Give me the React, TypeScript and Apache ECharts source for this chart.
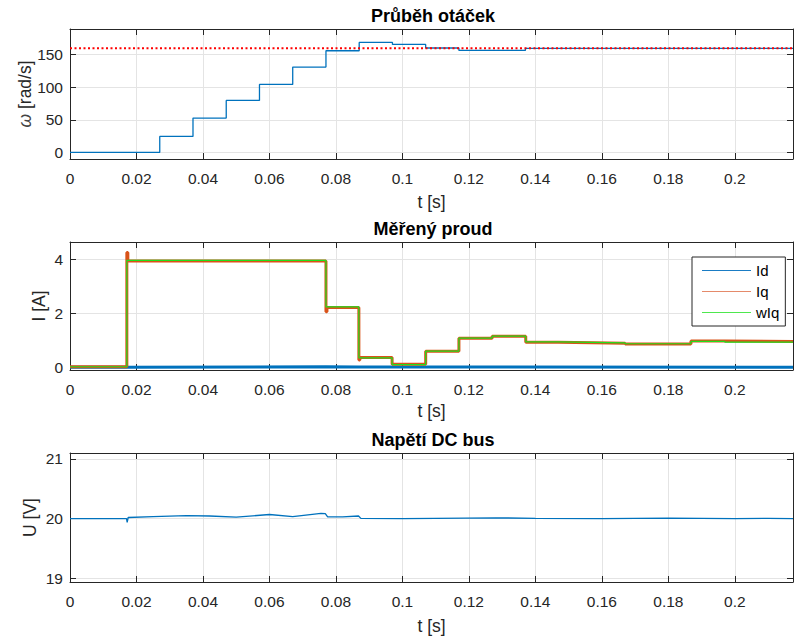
import React, { useEffect, useRef } from 'react';
import * as echarts from 'echarts';

// ---------- data ----------
const T_MAX = 0.2175;

// Průběh otáček (speed, rad/s) – step changes
const speedTimes = [0, 0.027, 0.037, 0.047, 0.057, 0.067, 0.077, 0.087, 0.097, 0.107, 0.117, 0.127, 0.137, 0.2175];
const speedValues = [0, 24.6, 52.8, 79.8, 104.4, 131.1, 156.1, 168.9, 165.8, 160.3, 156.6, 156.6, 159.7, 159.7];
const speedRefTimes = [0, 0.2175];
const speedRefValues = [160, 160];

// Měřený proud (A)
const idTimes = [0, 0.0171, 0.077, 0.0869, 0.2175];
const idValues = [0.01, 0.03, 0.02, 0.015, 0.015];

const iqTimes = [0, 0.0171, 0.0174, 0.077, 0.0773, 0.0869, 0.0872, 0.0969, 0.107, 0.117, 0.127, 0.1371, 0.1468, 0.157, 0.167, 0.1868, 0.197, 0.2175];
const iqValues = [0.03, 4.25, 3.94, 2.06, 2.22, 0.28, 0.37, 0.12, 0.6, 1.08, 1.16, 0.94, 0.92, 0.9, 0.87, 0.98, 0.96, 0.96];

const wiqTimes = [0, 0.0171, 0.077, 0.0869, 0.0969, 0.107, 0.117, 0.127, 0.1371, 0.1468, 0.157, 0.167, 0.1868, 0.197, 0.2175];
const wiqValues = [0.03, 3.96, 2.24, 0.36, 0.11, 0.61, 1.09, 1.16, 0.95, 0.93, 0.91, 0.88, 0.97, 0.94, 0.94];

// Napětí DC bus (V)
const uTimes = [0, 0.017, 0.0172, 0.0175, 0.025, 0.035, 0.042, 0.05, 0.06, 0.067, 0.0755, 0.0768, 0.0775, 0.082, 0.0868, 0.0875, 0.1, 0.11, 0.128, 0.14, 0.16, 0.18, 0.2, 0.21, 0.2175];
const uValues = [20.0, 20.0, 19.94, 20.02, 20.035, 20.05, 20.045, 20.025, 20.07, 20.035, 20.09, 20.085, 20.03, 20.03, 20.045, 20.005, 20.0, 20.005, 20.015, 20.005, 20.0, 20.01, 20.0, 20.005, 20.0];

const xTicks = { min: 0, max: T_MAX, step: 0.02 };
const titles = ['Průběh otáček', 'Měřený proud', 'Napětí DC bus'];
const yNames = ['{i|ω} [rad/s]', 'I [A]', 'U [V]'];
const yRanges = [
  { min: -10.1, max: 189.5, step: 50 },
  { min: -0.09, max: 4.64, step: 2 },
  { min: 18.94, max: 21.1, step: 1 },
];
const legendNames = ['Id', 'Iq', 'wIq'];

// ---------- style ----------
const FONT = '"Liberation Sans", Arial, Helvetica, sans-serif';
const AX = '#262626';
const GRIDC = '#e4e4e4';
const BLUE = '#0072BD';
const ORANGE = '#D95319';
const GREEN = '#1EE01E';
const LEGEND_COLORS = ['#1a7cc4', '#e58a6a', '#4ee84e'];

const gridBoxes = [
  { left: 70, top: 29, width: 723, height: 130 },
  { left: 70, top: 242, width: 723, height: 128 },
  { left: 70, top: 453, width: 723, height: 129 },
];
const yNameGaps = [36, 22, 31];
const xNameGaps = [34, 32, 35];

function pairs(xs: number[], ys: number[]) {
  return xs.map((x, i) => [x, ys[i]]);
}

function isMultiple(v: number, step: number) {
  const r = v / step;
  return Math.abs(r - Math.round(r)) < 1e-6;
}

function buildOption() {
  const xAxes: any[] = [];
  const yAxes: any[] = [];
  gridBoxes.forEach((_, g) => {
    const baseX = {
      type: 'value',
      gridIndex: g,
      min: xTicks.min,
      max: xTicks.max,
      interval: xTicks.step,
      axisLine: { show: true, onZero: false, lineStyle: { color: AX, width: 1 } },
      axisTick: { show: true, inside: true, length: 6, lineStyle: { color: AX } },
    };
    xAxes.push({
      ...baseX,
      position: 'bottom',
      name: 't [s]',
      nameLocation: 'middle',
      nameGap: xNameGaps[g],
      nameMoveOverlap: false,
      nameTextStyle: { fontFamily: FONT, fontSize: 17.5, color: AX },
      axisLabel: {
        show: true,
        margin: 11,
        fontFamily: FONT,
        fontSize: 15.5,
        color: AX,
        hideOverlap: false,
        formatter: (v: number) => (isMultiple(v, xTicks.step) ? String(+v.toFixed(2)) : ''),
      },
      splitLine: { show: true, lineStyle: { color: GRIDC, width: 1 } },
    });
    xAxes.push({
      ...baseX,
      position: 'top',
      axisLabel: { show: false },
      splitLine: { show: false },
    });
    const yr = yRanges[g];
    const baseY = {
      type: 'value',
      gridIndex: g,
      min: yr.min,
      max: yr.max,
      splitNumber: (yr.max - yr.min) / yr.step > 3 ? 4 : 2,
      axisLine: { show: true, onZero: false, lineStyle: { color: AX, width: 1 } },
      axisTick: { show: true, inside: true, length: 6, lineStyle: { color: AX } },
    };
    yAxes.push({
      ...baseY,
      position: 'left',
      name: yNames[g],
      nameLocation: 'middle',
      nameGap: yNameGaps[g],
      nameMoveOverlap: false,
      nameTextStyle: {
        fontFamily: FONT,
        fontSize: 17.5,
        color: AX,
        rich: { i: { fontFamily: FONT, fontSize: 17.5, fontStyle: 'italic', color: '#444' } },
      },
      axisLabel: {
        show: true,
        margin: 7,
        fontFamily: FONT,
        fontSize: 15.5,
        color: AX,
        formatter: (v: number) => (isMultiple(v, yr.step) ? String(Math.round(v)) : ''),
      },
      splitLine: { show: true, lineStyle: { color: GRIDC, width: 1 } },
    });
    yAxes.push({
      ...baseY,
      position: 'right',
      axisLabel: { show: false },
      splitLine: { show: false },
    });
  });

  const line = (name: string, data: number[][], g: number, color: string, width: number, extra: any = {}) => ({
    type: 'line',
    name,
    data,
    xAxisIndex: 2 * g,
    yAxisIndex: 2 * g,
    symbol: 'none',
    showSymbol: false,
    silent: true,
    lineStyle: { color, width },
    itemStyle: { color },
    ...extra,
  });

  return {
    animation: false,
    backgroundColor: '#ffffff',
    title: titles.map((t, g) => ({
      text: t,
      left: 433,
      top: gridBoxes[g].top - 22,
      textAlign: 'center',
      padding: 0,
      textStyle: { fontFamily: FONT, fontSize: 18, fontWeight: 'bold', color: '#000' },
    })),
    grid: gridBoxes.map((b) => ({ ...b, containLabel: false, outerBoundsMode: 'none', show: false })),
    xAxis: xAxes,
    yAxis: yAxes,
    legend: {
      show: true,
      data: legendNames.map((n, i) => ({
        name: n,
        icon: 'path://M0,6.4 L49,6.4 L49,7.6 L0,7.6 Z',
        itemStyle: { color: LEGEND_COLORS[i], borderWidth: 0 },
      })),
      orient: 'vertical',
      left: 692,
      top: 257,
      itemWidth: 49,
      itemHeight: 14,
      itemGap: 6,
      padding: [6, 6, 6, 10],
      borderColor: AX,
      borderWidth: 1,
      borderRadius: 0,
      backgroundColor: '#ffffff',
      selectedMode: false,
      textStyle: { fontFamily: FONT, fontSize: 15, color: '#000' },
    },
    series: [
      line('speed', pairs(speedTimes, speedValues), 0, BLUE, 1.3, { step: 'end' }),
      line('ref', pairs(speedRefTimes, speedRefValues), 0, '#FF0000', 2, {
        lineStyle: { color: '#FF0000', width: 2, type: [2, 2.5] },
      }),
      line('Id', pairs(idTimes, idValues), 1, BLUE, 3, { step: 'end' }),
      line('Iq', pairs(iqTimes, iqValues), 1, ORANGE, 3, { step: 'end' }),
      line('wIq', pairs(wiqTimes, wiqValues), 1, GREEN, 1.2, { step: 'end' }),
      line('U', pairs(uTimes, uValues), 2, BLUE, 1.3),
    ],
  };
}

export default function App() {
  const ref = useRef<HTMLDivElement>(null);
  useEffect(() => {
    if (!ref.current) return;
    const chart = echarts.init(ref.current, null, { renderer: 'svg' });
    chart.setOption(buildOption() as any);
    return () => chart.dispose();
  }, []);
  return (
    <div
      ref={ref}
      style={{ position: 'absolute', left: 0, top: 0, width: 795, height: 641, background: '#fff' }}
    />
  );
}
